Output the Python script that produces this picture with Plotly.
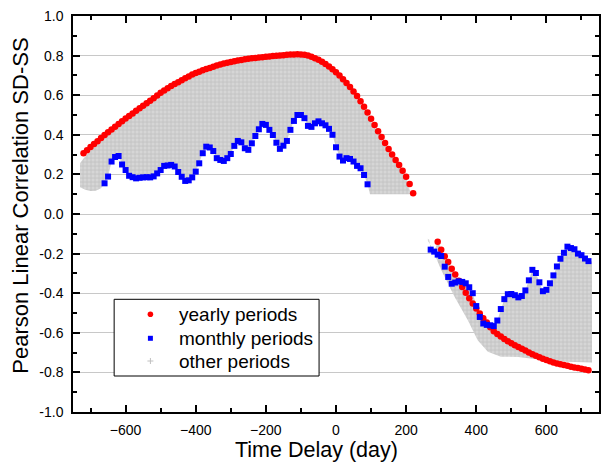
import plotly.graph_objects as go

# ---------------- data ----------------
red_left_x = list(range(-720, 230, 10))
red_left_y = [0.307, 0.322, 0.338, 0.353, 0.368, 0.384, 0.399, 0.413, 0.427, 0.441,
              0.455, 0.469, 0.482, 0.495, 0.508, 0.521, 0.534, 0.547, 0.559, 0.572,
              0.585, 0.598, 0.612, 0.624, 0.635, 0.646, 0.656, 0.666, 0.676, 0.686,
              0.695, 0.704, 0.712, 0.719, 0.726, 0.732, 0.738, 0.744, 0.750, 0.755,
              0.760, 0.764, 0.768, 0.771, 0.775, 0.778, 0.781, 0.784, 0.786, 0.788,
              0.790, 0.792, 0.794, 0.796, 0.798, 0.799, 0.801, 0.802, 0.804, 0.805,
              0.806, 0.807, 0.806, 0.804, 0.800, 0.794, 0.787, 0.779, 0.769, 0.758,
              0.745, 0.731, 0.716, 0.699, 0.681, 0.662, 0.641, 0.619, 0.596, 0.570,
              0.542, 0.512, 0.481, 0.449, 0.418, 0.389, 0.358, 0.328, 0.300, 0.273,
              0.247, 0.218, 0.188, 0.152, 0.105]

red_right_x = list(range(290, 730, 10))
red_right_y = [-0.140, -0.180, -0.213, -0.243, -0.276, -0.306, -0.337, -0.369, -0.398, -0.425,
               -0.452, -0.477, -0.503, -0.526, -0.548, -0.572, -0.592, -0.606, -0.619, -0.631,
               -0.643, -0.653, -0.663, -0.672, -0.681, -0.690, -0.699, -0.708, -0.716, -0.724,
               -0.731, -0.738, -0.744, -0.750, -0.755, -0.759, -0.763, -0.767, -0.771, -0.775,
               -0.778, -0.781, -0.785, -0.789]

blue_left_x = list(range(-660, 100, 10))
blue_left_y = [0.155, 0.189, 0.265, 0.288, 0.293, 0.250, 0.222, 0.193, 0.186, 0.180,
               0.183, 0.185, 0.186, 0.185, 0.190, 0.205, 0.222, 0.243, 0.245, 0.248,
               0.240, 0.212, 0.188, 0.167, 0.170, 0.185, 0.214, 0.256, 0.307, 0.340,
               0.336, 0.318, 0.282, 0.273, 0.268, 0.282, 0.303, 0.344, 0.369, 0.362,
               0.332, 0.324, 0.357, 0.394, 0.428, 0.455, 0.450, 0.425, 0.399, 0.360,
               0.329, 0.345, 0.369, 0.425, 0.470, 0.500, 0.500, 0.484, 0.445, 0.440,
               0.458, 0.468, 0.458, 0.448, 0.430, 0.400, 0.337, 0.290, 0.270, 0.282,
               0.278, 0.265, 0.243, 0.231, 0.197, 0.150]

blue_right_x = list(range(270, 730, 10))
blue_right_y = [-0.180, -0.190, -0.205, -0.212, -0.266, -0.318, -0.352, -0.346, -0.340, -0.343,
                -0.350, -0.370, -0.400, -0.465, -0.520, -0.553, -0.560, -0.562, -0.566, -0.538,
                -0.480, -0.430, -0.405, -0.404, -0.410, -0.421, -0.414, -0.386, -0.335, -0.282,
                -0.298, -0.345, -0.390, -0.383, -0.350, -0.310, -0.265, -0.226, -0.196, -0.165,
                -0.172, -0.178, -0.200, -0.208, -0.225, -0.238]

# envelope of the grey "other periods" family
gray_left_upper_x = [-730, -720, -700, -660, -600, -500, -400, -300, -200, -120, -80, -40, 0, 40, 80, 120, 160, 200, 212]
gray_left_upper_y = [0.256, 0.280, 0.320, 0.385, 0.470, 0.600, 0.700, 0.760, 0.785, 0.795, 0.790, 0.760, 0.705, 0.630, 0.530, 0.405, 0.290, 0.180, 0.110]
gray_left_lower_head_x = [-730, -715, -700, -685, -670]
gray_left_lower_head_y = [0.135, 0.122, 0.116, 0.118, 0.130]
gray_left_lower_tail_x = [97, 150, 212]
gray_left_lower_tail_y = [0.100, 0.100, 0.100]

gray_right_upper_head_x = [262, 266]
gray_right_upper_head_y = [-0.125, -0.130]
gray_right_upper_tail_x = [730]
gray_right_upper_tail_y = [-0.240]
gray_right_lower_x = [730, 660, 600, 520, 470, 433, 404, 376, 338, 300, 272, 262]
gray_right_lower_y = [-0.750, -0.746, -0.740, -0.722, -0.721, -0.696, -0.637, -0.536, -0.418, -0.283, -0.165, -0.135]

x_ticks = [-600, -400, -200, 0, 200, 400, 600]
y_ticks = [-1.0, -0.8, -0.6, -0.4, -0.2, 0.0, 0.2, 0.4, 0.6, 0.8, 1.0]

series_names = ["yearly periods", "monthly periods", "other periods"]

FONT = "Liberation Sans, Arial, sans-serif"

# ---------------- build grey band polygons ----------------
left_lower_x = gray_left_lower_head_x + blue_left_x + gray_left_lower_tail_x
left_lower_y = gray_left_lower_head_y + blue_left_y + gray_left_lower_tail_y
poly_left_x = gray_left_upper_x + left_lower_x[::-1]
poly_left_y = gray_left_upper_y + left_lower_y[::-1]

red_r = dict(zip(red_right_x, red_right_y))
right_upper_y = [max(v, red_r.get(x, -9)) for x, v in zip(blue_right_x, blue_right_y)]
poly_right_x = gray_right_upper_head_x + blue_right_x + gray_right_upper_tail_x + gray_right_lower_x
poly_right_y = gray_right_upper_head_y + right_upper_y + gray_right_upper_tail_y + gray_right_lower_y

pattern = dict(shape="+", fgcolor="#b0b0b0", bgcolor="#d6d6d6", size=4, solidity=0.4)

fig = go.Figure()
for px, py in [(poly_left_x, poly_left_y), (poly_right_x, poly_right_y)]:
    fig.add_trace(go.Scatter(x=px, y=py, mode="lines", fill="toself",
                             fillcolor="rgba(0,0,0,0)", fillpattern=pattern,
                             line=dict(width=0, color="#c8c8c8"),
                             showlegend=False, hoverinfo="skip", name=series_names[2]))

fig.add_trace(go.Scatter(x=red_left_x + red_right_x, y=red_left_y + red_right_y,
                         mode="markers", name=series_names[0], showlegend=False,
                         marker=dict(symbol="circle", size=6.5, color="#ff0000",
                                     line=dict(width=0))))
fig.add_trace(go.Scatter(x=blue_left_x + blue_right_x, y=blue_left_y + blue_right_y,
                         mode="markers", name=series_names[1], showlegend=False,
                         marker=dict(symbol="square", size=6, color="#0000ff",
                                     line=dict(width=0))))

# ---------------- legend (framed key drawn in paper space) ----------------
W, H, L, B = 528, 396, 73, 50          # plot area size / offsets in px
def px2x(p): return (p - L) / W
def py2y(p): return (462 - B - p) / H

key_rows = [314.3, 338.3, 361.0]
key_mark_x = 150.7
key_text_x = 177.7

annotations = [
    dict(text=name, xref="paper", yref="paper", x=px2x(key_text_x), y=py2y(r),
         xanchor="left", yanchor="middle", showarrow=False,
         font=dict(family=FONT, size=19, color="black"))
    for name, r in zip(series_names, key_rows)
]
annotations += [
    dict(text="Time Delay (day)", xref="paper", yref="paper", x=px2x(317.5), y=py2y(450),
         xanchor="center", yanchor="middle", showarrow=False,
         font=dict(family=FONT, size=21.5)),
    dict(text="Pearson Linear Correlation SD-SS", xref="paper", yref="paper",
         x=px2x(20), y=py2y(205.5), xanchor="center", yanchor="middle", textangle=-90,
         showarrow=False, font=dict(family=FONT, size=22)),
]

def key_box(cx, cy, r):
    return dict(x0=px2x(cx - r), x1=px2x(cx + r), y0=py2y(cy + r), y1=py2y(cy - r))

shapes = [dict(type="rect", xref="paper", yref="paper",
               x0=px2x(114.3), x1=px2x(320), y0=py2y(376), y1=py2y(299.3),
               line=dict(color="black", width=1), fillcolor="white", layer="above")]
# key symbols: red dot, blue square, grey plus
shapes.append(dict(type="circle", xref="paper", yref="paper", layer="above",
                   fillcolor="#ff0000", line=dict(width=0),
                   **key_box(key_mark_x, key_rows[0], 2.8)))
shapes.append(dict(type="rect", xref="paper", yref="paper", layer="above",
                   fillcolor="#0000ff", line=dict(width=0),
                   **key_box(key_mark_x, key_rows[1], 2.5)))
shapes.append(dict(type="line", xref="paper", yref="paper", layer="above",
                   x0=px2x(key_mark_x - 3), x1=px2x(key_mark_x + 3),
                   y0=py2y(key_rows[2]), y1=py2y(key_rows[2]),
                   line=dict(color="#c0c0c0", width=1)))
shapes.append(dict(type="line", xref="paper", yref="paper", layer="above",
                   x0=px2x(key_mark_x), x1=px2x(key_mark_x),
                   y0=py2y(key_rows[2] - 3), y1=py2y(key_rows[2] + 3),
                   line=dict(color="#c0c0c0", width=1)))

axis_common = dict(showline=True, linecolor="black", linewidth=1.5, mirror="allticks",
                   ticks="inside", ticklen=7, tickwidth=1.5, tickcolor="black",
                   tickfont=dict(family=FONT, size=14, color="black"),
                   zeroline=False)

fig.update_layout(
    xaxis=dict(range=[-750, 750], tickvals=x_ticks, showgrid=False,
               minor=dict(dtick=100, tick0=0, ticks="inside", ticklen=4,
                          tickwidth=1.5, tickcolor="black"),
               ticklabelstandoff=4, **axis_common),
    yaxis=dict(range=[-1.0, 1.0], tickvals=y_ticks, ticktext=[f"{v:.1f}" for v in y_ticks],
               showgrid=True, gridcolor="#c8c8c8", gridwidth=1,
               minor=dict(dtick=0.1, tick0=0, ticks="inside", ticklen=4,
                          tickwidth=1.5, tickcolor="black", showgrid=False),
               ticklabelstandoff=5, **axis_common),
    width=601, height=462,
    margin=dict(l=L, r=0, t=16, b=B),
    paper_bgcolor="white", plot_bgcolor="white",
    font=dict(family=FONT, color="black"),
    showlegend=False,
    shapes=shapes,
    annotations=annotations,
)

fig.write_html("out.html", config={"displayModeBar": False},
               post_script="document.body.style.margin='0';")
